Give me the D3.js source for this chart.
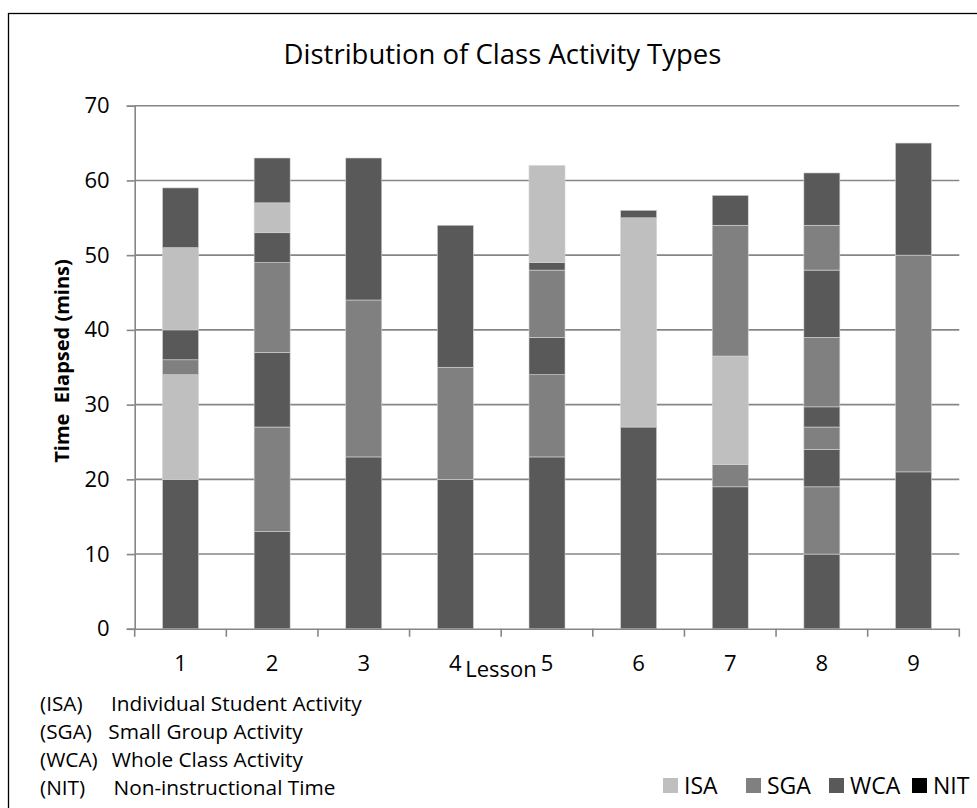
<!DOCTYPE html>
<html>
<head>
<meta charset="utf-8">
<script src="https://cdn.jsdelivr.net/npm/d3@7"></script>
<style>
  html, body { margin: 0; padding: 0; background: #fff; }
  svg { display: block; font-family: "Open Sans", "DejaVu Sans", sans-serif; }
</style>
</head>
<body>
<svg id="chart" width="977" height="808"></svg>
<script>
// ---- data ----
const lessons = ["1", "2", "3", "4", "5", "6", "7", "8", "9"];
const activityTypes = ["ISA", "SGA", "WCA", "NIT"];
// stacked segments, bottom to top, per lesson
const segmentTypes = [
  ["WCA", "ISA", "SGA", "WCA", "ISA", "WCA"],
  ["WCA", "SGA", "WCA", "SGA", "WCA", "ISA", "WCA"],
  ["WCA", "SGA", "WCA"],
  ["WCA", "SGA", "WCA"],
  ["WCA", "SGA", "WCA", "SGA", "WCA", "ISA"],
  ["WCA", "ISA", "WCA"],
  ["WCA", "SGA", "ISA", "SGA", "WCA"],
  ["WCA", "SGA", "WCA", "SGA", "WCA", "SGA", "WCA", "SGA", "WCA"],
  ["WCA", "SGA", "WCA"]
];
const segmentValues = [
  [20, 14, 2, 4, 11, 8],
  [13, 14, 10, 12, 4, 4, 6],
  [23, 21, 19],
  [20, 15, 19],
  [23, 11, 5, 9, 1, 13],
  [27, 28, 1],
  [19, 3, 14.5, 17.5, 4],
  [10, 9, 5, 3, 2.7, 9.3, 9, 6, 7],
  [21, 29, 15]
];
const yTicks = [0, 10, 20, 30, 40, 50, 60, 70];
const footnoteCodes = ["(ISA)", "(SGA)", "(WCA)", "(NIT)"];
const footnoteNames = ["Individual Student Activity", "Small Group Activity", "Whole Class Activity", "Non-instructional Time"];
const titleText = "Distribution of Class Activity Types";
const yTitle = "Time  Elapsed (mins)";
const xTitle = "Lesson";

// ---- styles ----
const colors = { ISA: "#bfbfbf", SGA: "#808080", WCA: "#595959", NIT: "#000000" };
const axisColor = "#868686";

const svg = d3.select("#chart");
const plot = { left: 134.7, right: 959.3, top: 105.7, bottom: 628.8 };

const x = d3.scaleBand().domain(lessons).range([plot.left, plot.right])
  .paddingInner(0.607).paddingOuter(0.3035);
const y = d3.scaleLinear().domain([0, 70]).range([plot.bottom, plot.top]);

// outer frame
svg.append("rect").attr("x", 8.5).attr("y", 13.5).attr("width", 1100).attr("height", 1000)
  .attr("fill", "none").attr("stroke", "#000").attr("stroke-width", 1.3);

// gridlines
svg.append("g").selectAll("line").data(yTicks.filter(d => d > 0)).join("line")
  .attr("x1", plot.left).attr("x2", plot.right)
  .attr("y1", d => y(d)).attr("y2", d => y(d))
  .attr("stroke", axisColor).attr("stroke-width", 1.6);

// bars
const segs = [];
lessons.forEach((l, i) => {
  let acc = 0;
  segmentValues[i].forEach((v, j) => {
    segs.push({ lesson: l, type: segmentTypes[i][j], y0: acc, y1: acc + v });
    acc += v;
  });
});
svg.append("g").selectAll("rect").data(segs).join("rect")
  .attr("x", d => x(d.lesson))
  .attr("width", x.bandwidth())
  .attr("y", d => y(d.y1))
  .attr("height", d => y(d.y0) - y(d.y1))
  .attr("fill", d => colors[d.type])
  .attr("stroke", "#d4d4d4").attr("stroke-width", 0.6);

// y axis
const yAxis = svg.append("g").attr("transform", `translate(${plot.left},0)`)
  .call(d3.axisLeft(y).tickValues(yTicks).tickSize(8).tickPadding(17));
yAxis.select(".domain").attr("stroke", axisColor).attr("stroke-width", 1.6);
yAxis.selectAll(".tick line").attr("stroke", axisColor).attr("stroke-width", 1.6);
yAxis.selectAll(".tick text").attr("font-size", 22).attr("fill", "#000")
  .attr("font-family", "'Open Sans', sans-serif");

// x axis
const xAxis = svg.append("g").attr("transform", `translate(0,${plot.bottom})`)
  .call(d3.axisBottom(x).tickSize(0).tickPadding(27));
xAxis.select(".domain").attr("stroke", axisColor).attr("stroke-width", 1.6);
xAxis.selectAll(".tick text").attr("font-size", 22).attr("fill", "#000")
  .attr("font-family", "'Open Sans', sans-serif");
// boundary tick marks
const boundaries = lessons.map(l => x(l) - x.step() * x.paddingInner() / 2)
  .concat([plot.right]);
svg.append("g").selectAll("line").data(boundaries).join("line")
  .attr("x1", d => d).attr("x2", d => d)
  .attr("y1", plot.bottom).attr("y2", plot.bottom + 8)
  .attr("stroke", axisColor).attr("stroke-width", 1.6);

// x title
svg.append("text").attr("x", 501).attr("y", 677).attr("text-anchor", "middle")
  .attr("font-size", 22).text(xTitle);

// title
svg.append("text").attr("x", 502.5).attr("y", 63.5).attr("text-anchor", "middle")
  .attr("font-size", 27.5).text(titleText);

// y title
svg.append("text").attr("transform", "translate(69,361) rotate(-90)")
  .attr("text-anchor", "middle").attr("font-size", 20).attr("font-weight", "bold")
  .style("white-space", "pre").text(yTitle);

// footnotes
const footX = [111, 108.3, 111.7, 113.5];
const foot = svg.append("g");
footnoteCodes.forEach((c, i) => {
  const by = 711 + i * 28;
  foot.append("text").attr("x", 40).attr("y", by).attr("font-size", 20.8).text(c);
  foot.append("text").attr("x", footX[i]).attr("y", by).attr("font-size", 20.8).text(footnoteNames[i]);
});

// legend
const leg = svg.append("g");
activityTypes.forEach((t, i) => {
  const lx = 663 + i * 83;
  leg.append("rect").attr("x", lx).attr("y", 778).attr("width", 15).attr("height", 15)
    .attr("fill", colors[t]);
  leg.append("text").attr("x", lx + 21).attr("y", 793.5).attr("font-size", 23).text(t);
});
</script>
</body>
</html>
